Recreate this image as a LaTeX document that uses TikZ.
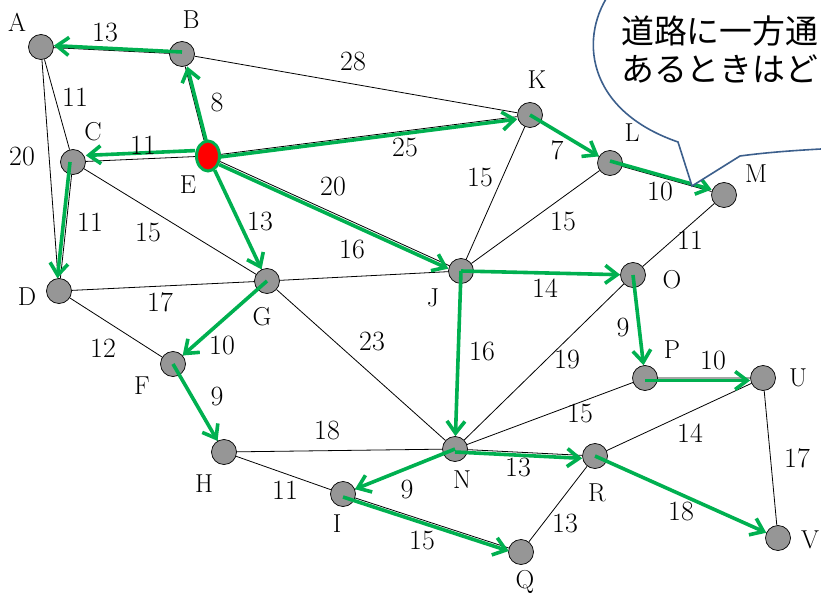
\documentclass[tikz,border=0pt]{standalone}
\usepackage{fontspec}
\newfontfamily\cjk{Noto Sans CJK JP}
\usetikzlibrary{arrows.meta,shapes.geometric}
\definecolor{vgray}{RGB}{150,150,150}
\definecolor{pgreen}{RGB}{0,176,80}
\definecolor{bblue}{RGB}{60,95,140}
\begin{document}
\begin{tikzpicture}[x=1bp,y=-1bp,
  vtx/.style={circle,draw=black,fill=vgray,line width=0.7bp,minimum size=25bp,inner sep=0pt},
  edge/.style={draw=black,line width=0.8bp},
  garrow/.style={draw=pgreen,line width=3.6bp,-{Straight Barb[length=12bp,width=18bp]}},
  lab/.style={font=\fontsize{28}{30}\selectfont,inner sep=0pt},
  vlab/.style={font=\fontsize{26}{28}\selectfont,inner sep=0pt},
  bubble/.style={draw=bblue,line width=1.6bp,fill=white,line join=miter},
  qtext/.style={font=\cjk\fontsize{33}{36}\selectfont,inner sep=0pt,anchor=west}]
\useasboundingbox (0,0) rectangle (821,599);
\clip (0,0) rectangle (821,599);
% vertices
\node[vtx] (A) at (41,47) {};
\node[vtx] (B) at (182,54) {};
\node[vtx] (C) at (73,162) {};
\node[ellipse,draw=pgreen,fill=red,line width=3bp,minimum width=23bp,minimum height=30bp,inner sep=0pt] (E) at (208,156) {};
\node[vtx] (K) at (530,115) {};
\node[vtx] (L) at (610,163) {};
\node[vtx] (M) at (724,195) {};
\node[vtx] (D) at (59,291) {};
\node[vtx] (G) at (267,281) {};
\node[vtx] (J) at (461,271) {};
\node[vtx] (O) at (633,275) {};
\node[vtx] (F) at (173,364) {};
\node[vtx] (P) at (645,378) {};
\node[vtx] (U) at (763,378) {};
\node[vtx] (H) at (224,452) {};
\node[vtx] (N) at (455,449) {};
\node[vtx] (R) at (595,456) {};
\node[vtx] (I) at (343,494) {};
\node[vtx] (Q) at (521,552) {};
\node[vtx] (V) at (778,538) {};
% black edges
\draw[edge] (A)--(B) (A)--(C) (A)--(D) (B)--(E) (B)--(K) (C)--(E) (C)--(D) (C)--(G)
  (E)--(K) (E)--(J) (E)--(G) (D)--(G) (D)--(F) (G)--(J) (G)--(F) (G)--(N)
  (K)--(J) (K)--(L) (L)--(J) (L)--(M) (M)--(O) (J)--(O) (J)--(N) (O)--(N)
  (O)--(P) (P)--(N) (P)--(U) (F)--(H) (H)--(N) (H)--(I) (N)--(I) (N)--(R)
  (I)--(Q) (R)--(Q) (R)--(U) (R)--(V) (U)--(V);
% green arrows
\draw[garrow,transform canvas={shift={(0,-2)}}] (B.center) -- (A);
\draw[garrow,transform canvas={shift={(2,0)}}] (E) -- (B);
\draw[garrow,transform canvas={shift={(0,-6)}}] (E) -- (C);
\draw[garrow,transform canvas={shift={(-3,0)}}] (C.center) -- (D);
\draw[garrow,transform canvas={shift={(0,2.5)}}] (E) -- (K);
\draw[garrow,transform canvas={shift={(-1,3)}}] (E) -- (J);
\draw[garrow] (E) -- (G);
\draw[garrow] (K.center) -- (L);
\draw[garrow,transform canvas={shift={(0,-2)}}] (L.center) -- (M);
\draw[garrow] (G.center) -- (F);
\draw[garrow] (F.center) -- (H);
\draw[garrow] (J.center) -- (O);
\draw[garrow] (J.center) -- (N);
\draw[garrow] (O.center) -- (P);
\draw[garrow,transform canvas={shift={(0,2.5)}}] (P.center) -- (U);
\draw[garrow] (N.center) -- (I);
\draw[garrow,transform canvas={shift={(0,3)}}] (N.center) -- (R);
\draw[garrow,transform canvas={shift={(0,3)}}] (I.center) -- (Q);
\draw[garrow] (R.center) -- (V);
% vertex labels
\node[vlab] (tA) at (17,22) {A};
\node[vlab] (tB) at (191,20) {B};
\node[vlab] (tC) at (93,132) {C};
\node[vlab] (tE) at (188,185) {E};
\node[vlab] (tK) at (537,80) {K};
\node[vlab] (tL) at (632,133) {L};
\node[vlab] (tM) at (756,174) {M};
\node[vlab] (tD) at (27,297) {D};
\node[vlab] (tG) at (262,317) {G};
\node[vlab] (tJ) at (433,298) {J};
\node[vlab] (tO) at (672,280) {O};
\node[vlab] (tF) at (142,386) {F};
\node[vlab] (tP) at (672,350) {P};
\node[vlab] (tU) at (798,378) {U};
\node[vlab] (tH) at (204,484) {H};
\node[vlab] (tN) at (462,480) {N};
\node[vlab] (tR) at (597,493) {R};
\node[vlab] (tI) at (337,524) {I};
\node[vlab] (tQ) at (525,582) {Q};
\node[vlab] (tV) at (810,540) {V};
% weights
\node[lab] (wAB) at (105,33) {13};
\node[lab] (wAC) at (75,97) {11};
\node[lab] (wAD) at (22,157) {20};
\node[lab] (wBE) at (217,103) {8};
\node[lab] (wBK) at (353,62) {28};
\node[lab] (wCE) at (143,145) {11};
\node[lab] (wCD) at (90,222) {11};
\node[lab] (wCG) at (148,233) {15};
\node[lab] (wEK) at (405,148) {25};
\node[lab] (wEJ) at (333,187) {20};
\node[lab] (wEG) at (260,222) {13};
\node[lab] (wGJ) at (352,250) {16};
\node[lab] (wDG) at (160,302) {17};
\node[lab] (wDF) at (103,348) {12};
\node[lab] (wGF) at (222,346) {10};
\node[lab] (wGN) at (372,342) {23};
\node[lab] (wKJ) at (480,178) {15};
\node[lab] (wKL) at (557,150) {7};
\node[lab] (wLJ) at (563,222) {15};
\node[lab] (wLM) at (660,192) {10};
\node[lab] (wMO) at (690,240) {11};
\node[lab] (wJO) at (545,288) {14};
\node[lab] (wJN) at (482,352) {16};
\node[lab] (wON) at (567,360) {19};
\node[lab] (wOP) at (623,328) {9};
\node[lab] (wPN) at (580,414) {15};
\node[lab] (wPU) at (713,361) {10};
\node[lab] (wFH) at (217,397) {9};
\node[lab] (wHN) at (327,431) {18};
\node[lab] (wHI) at (285,490) {11};
\node[lab] (wNI) at (407,489) {9};
\node[lab] (wNR) at (518,468) {13};
\node[lab] (wIQ) at (422,540) {15};
\node[lab] (wRQ) at (565,523) {13};
\node[lab] (wRU) at (690,433) {14};
\node[lab] (wRV) at (681,511) {18};
\node[lab] (wUV) at (797,458) {17};
% speech bubble
\draw[bubble] (612,-10) .. controls (578,35) and (585,110) .. (678,142) -- (692,186) -- (740,156)
  .. controls (770,152) and (800,150) .. (840,148) -- (840,-10) -- cycle;
\node[qtext] (q1) at (621,31) {道路に一方通};
\node[qtext] (q2) at (621,69) {あるときはどう};
\end{tikzpicture}
\end{document}
